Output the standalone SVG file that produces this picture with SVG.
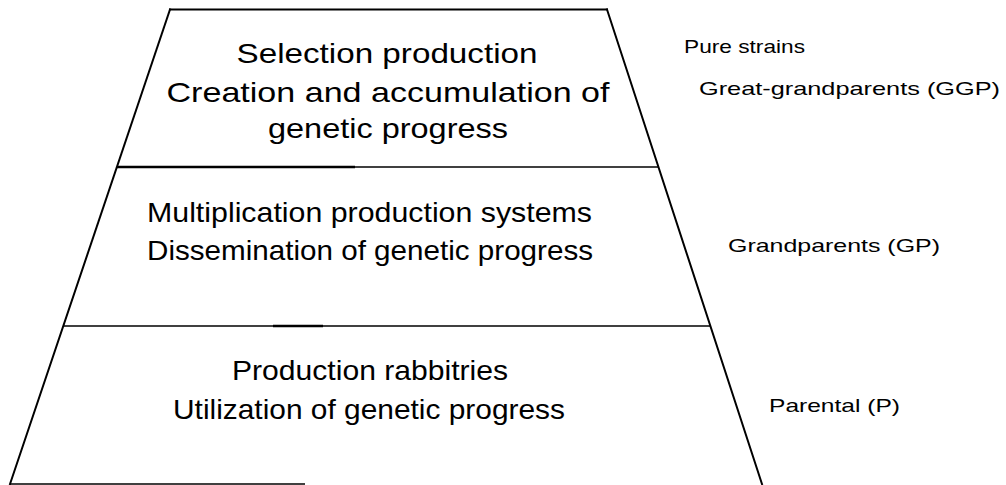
<svg xmlns="http://www.w3.org/2000/svg" width="1006" height="485" viewBox="0 0 1006 485">
<style>
.edge{stroke:#000;stroke-width:2;fill:none;stroke-linecap:square}
.rule{stroke:#000;stroke-width:1.6;fill:none}
.thick{stroke:#000;stroke-width:2.6;fill:none}
.main{font-family:"Liberation Sans",Arial,sans-serif;font-size:28px;fill:#000;text-anchor:middle}
.side{font-family:"Liberation Sans",Arial,sans-serif;font-size:19px;fill:#000}
</style>
<rect width="1006" height="485" fill="#fff"/>
<g id="pyramid-outline">
<line class="edge" x1="170" y1="9.5" x2="607" y2="9.5"/>
<line class="edge" x1="170" y1="9.5" x2="10" y2="484"/>
<line class="edge" x1="607" y1="9.5" x2="762" y2="484"/>
</g>
<g id="dividers">
<line class="rule" x1="117" y1="167" x2="658" y2="167"/>
<line class="thick" x1="117" y1="167" x2="355" y2="167"/>
<line class="rule" x1="63" y1="326" x2="710" y2="326"/>
<line class="thick" x1="273" y1="326" x2="323" y2="326"/>
<line class="rule" x1="10" y1="484" x2="305" y2="484"/>
</g>
<g id="tier-selection">
<text class="main" x="387" y="63" textLength="301" lengthAdjust="spacingAndGlyphs">Selection production</text>
<text class="main" x="388" y="102" textLength="443" lengthAdjust="spacingAndGlyphs">Creation and accumulation of</text>
<text class="main" x="388" y="138" textLength="240" lengthAdjust="spacingAndGlyphs">genetic progress</text>
</g>
<g id="tier-multiplication">
<text class="main" x="369.5" y="222" textLength="445" lengthAdjust="spacingAndGlyphs">Multiplication production systems</text>
<text class="main" x="370" y="260" textLength="446" lengthAdjust="spacingAndGlyphs">Dissemination of genetic progress</text>
</g>
<g id="tier-production">
<text class="main" x="370" y="380" textLength="276" lengthAdjust="spacingAndGlyphs">Production rabbitries</text>
<text class="main" x="369" y="419" textLength="392" lengthAdjust="spacingAndGlyphs">Utilization of genetic progress</text>
</g>
<g id="labels">
<text class="side" x="684" y="53" textLength="121" lengthAdjust="spacingAndGlyphs">Pure strains</text>
<text class="side" x="699" y="95" textLength="301" lengthAdjust="spacingAndGlyphs">Great-grandparents (GGP)</text>
<text class="side" x="728" y="252" textLength="212" lengthAdjust="spacingAndGlyphs">Grandparents (GP)</text>
<text class="side" x="769" y="412" textLength="131" lengthAdjust="spacingAndGlyphs">Parental (P)</text>
</g>
</svg>
